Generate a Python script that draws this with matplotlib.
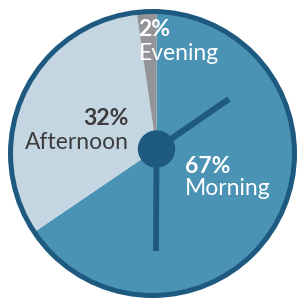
import matplotlib
matplotlib.use("Agg")
import matplotlib.pyplot as plt
from matplotlib.patches import Circle, Wedge

W, H = 301, 299

# shares of the day (wedge sizes as drawn, labels as printed)
parts = ["Morning", "Afternoon", "Evening"]
shares = [65.5, 32.2, 2.3]
pct_labels = ["67%", "32%", "2%"]
colors = ["#4b93b5", "#c5d6e3", "#939497"]
dark = "#1e5a80"

plt.rcParams['font.family'] = ['Lato', 'DejaVu Sans']

fig = plt.figure(figsize=(W / 100, H / 100), dpi=100)
ax = fig.add_axes([0, 0, 1, 1])

# pixel helper (y measured from top)
def P(x, y):
    return x, H - y

hub = P(156.5, 149)
face = P(152.5, 153.5)
R = 142

ax.pie(shares, colors=colors, startangle=90, counterclock=False,
       center=hub, radius=170, frame=True)
# mask everything outside the clock face
ax.add_patch(Wedge(face, 500, 0, 360, width=500 - R, color='white', zorder=2))
ax.add_patch(Circle(face, R, fill=False, ec=dark, lw=3.6, zorder=3))

# clock hands
ax.plot([hub[0], 156], [hub[1], H - 251], color=dark, lw=4.2, solid_capstyle='butt', zorder=4)
ax.plot([hub[0], 229], [hub[1], H - 99], color=dark, lw=4.4, solid_capstyle='butt', zorder=4)
ax.add_patch(Circle(hub, 18, color=dark, zorder=5))

fs = 16.5
ax.text(*P(138, 36), pct_labels[2], color='white', fontsize=fs, fontweight='bold', ha='left', va='baseline', zorder=6)
ax.text(*P(139, 60), parts[2], color='white', fontsize=fs, ha='left', va='baseline', zorder=6)
ax.text(*P(129, 125), pct_labels[1], color='#3c3c3c', fontsize=fs, fontweight='bold', ha='right', va='baseline', zorder=6)
ax.text(*P(129, 149), parts[1], color='#3c3c3c', fontsize=fs, ha='right', va='baseline', zorder=6)
ax.text(*P(185, 173), pct_labels[0], color='white', fontsize=fs, fontweight='bold', ha='left', va='baseline', zorder=6)
ax.text(*P(185, 195), parts[0], color='white', fontsize=fs, ha='left', va='baseline', zorder=6)

ax.set_xlim(0, W)
ax.set_ylim(0, H)
ax.set_aspect('equal')
ax.axis('off')

fig.savefig("out.png", dpi=100)
